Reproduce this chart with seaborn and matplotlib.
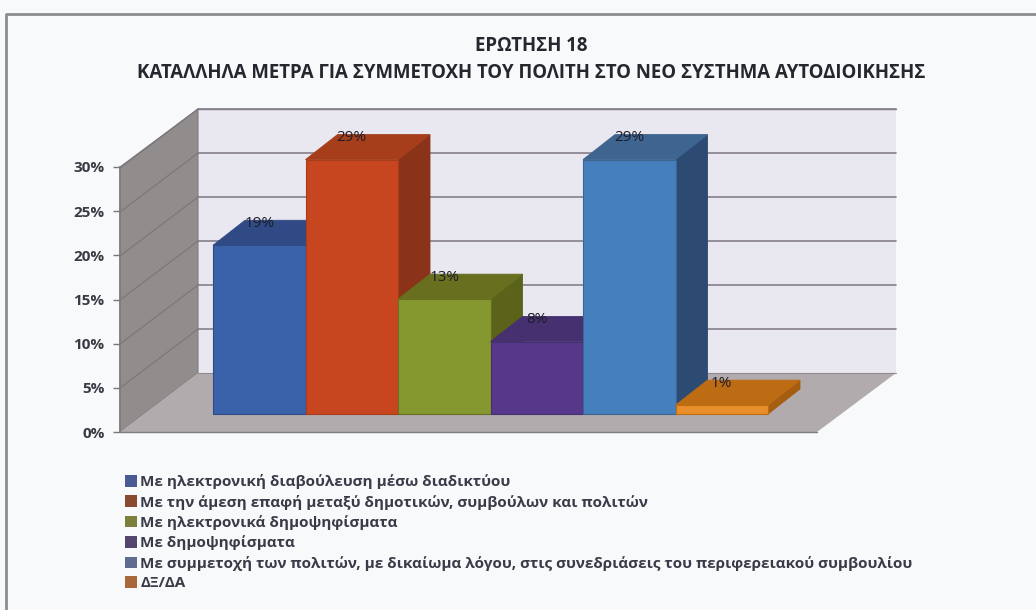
import matplotlib
matplotlib.use("Agg")
import matplotlib.pyplot as plt
import pandas as pd
import seaborn as sns
from matplotlib.patches import Patch, Polygon

categories = [
    "Με ηλεκτρονική διαβούλευση μέσω διαδικτύου",
    "Με την άμεση επαφή μεταξύ δημοτικών, συμβούλων και πολιτών",
    "Με ηλεκτρονικά δημοψηφίσματα",
    "Με δημοψηφίσματα",
    "Με συμμετοχή των πολιτών, με δικαίωμα λόγου, στις συνεδριάσεις του περιφερειακού συμβουλίου",
    "ΔΞ/ΔΑ",
]
values = [19.1, 28.8, 13, 8.2, 28.8, 1]
value_labels = ["19%", "29%", "13%", "8%", "29%", "1%"]
y_ticks = [0, 5, 10, 15, 20, 25, 30]
title_1 = "ΕΡΩΤΗΣΗ 18"
title_2 = "ΚΑΤΑΛΛΗΛΑ ΜΕΤΡΑ ΓΙΑ ΣΥΜΜΕΤΟΧΗ ΤΟΥ ΠΟΛΙΤΗ ΣΤΟ ΝΕΟ ΣΥΣΤΗΜΑ ΑΥΤΟΔΙΟΙΚΗΣΗΣ"

front_colors = ["#3a62ab", "#c8461f", "#84982f", "#56378a", "#467fbd", "#e88e2b"]
top_colors = ["#2f4a85", "#a63e1c", "#68701f", "#46306f", "#3e6490", "#bd6c14"]
side_colors = ["#28407a", "#8a3318", "#5a6319", "#3c2a62", "#2c4a72", "#a55d10"]
legend_colors = ["#4a5a94", "#8a4a30", "#7d7f3c", "#54456f", "#5f6c8f", "#a8683a"]

W, H = 1036, 610
sns.set_theme(style="white")
plt.rcParams["font.family"] = ["Open Sans", "DejaVu Sans"]

fig = plt.figure(figsize=(W / 100, H / 100), dpi=100, facecolor="#f7f9fa")


def box(left, top, right, bottom):
    return [left / W, 1 - bottom / H, (right - left) / W, (bottom - top) / H]


# walls and floor, in picture pixels
bg = fig.add_axes([0, 0, 1, 1])
bg.set_xlim(0, W)
bg.set_ylim(H, 0)
bg.axis("off")
bg.plot([W, 6, 6], [14, 14, H], color="#8d8d8d", lw=2)
bg.add_patch(Polygon([(198, 109), (896, 109), (896, 373), (198, 373)], fc="#e9e7f0", ec="none"))
bg.plot([198, 896], [109, 109], color="#857f8a", lw=1)
bg.add_patch(Polygon([(120, 167), (198, 109), (198, 373), (120, 432)], fc="#918d8d", ec="#7f7b80", lw=0.8))
bg.add_patch(Polygon([(120, 432), (198, 373), (896, 373), (817, 432)], fc="#b1abad", ec="none"))
bg.plot([120, 817], [432, 432], color="#7f7b80", lw=1)
bg.plot([198, 896], [373, 373], color="#8f8a90", lw=0.8)
for t in y_ticks[1:]:
    gy = 373 - t * 8.8
    bg.plot([198, 896], [gy, gy], color="#857f8a", lw=1.2)
    bg.plot([120, 198], [gy + 59, gy], color="#7b777b", lw=0.9)

# value axis on the front edge of the left wall
tick_ax = fig.add_axes(box(120, 167, 122, 432), facecolor="none")
tick_ax.set_ylim(0, 30)
tick_ax.set_xticks([])
tick_ax.set_yticks(y_ticks)
tick_ax.set_yticklabels([f"{t}%" for t in y_ticks], fontweight="bold", fontsize=11, color="#3a3a44")
tick_ax.tick_params(axis="y", left=True, length=5, width=1, color="#777", pad=6)
sns.despine(ax=tick_ax, right=True, top=True, bottom=True)
tick_ax.spines["left"].set_color("#7f7b80")

# bars
ax = fig.add_axes(box(213, 149, 768, 414), facecolor="none")
df = pd.DataFrame({"category": categories, "value": values})
sns.barplot(data=df, x="category", y="value", hue="category", palette=front_colors,
            width=1, saturation=1, legend=False, ax=ax)
ax.set_xlim(-0.5, 5.5)
ax.set_ylim(0, 30)
ax.axis("off")

depth_x = 32 / 92.5
depth_y = 25 / 8.83
bars = sorted([p for p in ax.patches if p.get_height() > 0], key=lambda p: p.get_x())
for i, bar in enumerate(bars):
    x0 = bar.get_x()
    x1 = x0 + bar.get_width()
    h = bar.get_height()
    z = 3 + i * 3
    ax.add_patch(Polygon([(x1, 0), (x1 + depth_x, depth_y), (x1 + depth_x, h + depth_y), (x1, h)],
                         fc=side_colors[i], ec=side_colors[i], lw=0.6, zorder=z, clip_on=False))
    ax.add_patch(Polygon([(x0, h), (x0 + depth_x, h + depth_y), (x1 + depth_x, h + depth_y), (x1, h)],
                         fc=top_colors[i], ec=top_colors[i], lw=0.6, zorder=z + 1, clip_on=False))
    bar.set_zorder(z + 2)
    bar.set_edgecolor(top_colors[i])
    bar.set_linewidth(0.8)
    bar.set_clip_on(False)
    ax.text(x0 + 0.5, h + 2.5, value_labels[i], ha="center", va="center", fontsize=11,
            color="#1c1c28", zorder=40, clip_on=False)

fig.text(531 / W, 1 - 46 / H, title_1, ha="center", va="center", fontsize=13.4, fontweight="bold", color="#26262e")
fig.text(531 / W, 1 - 73 / H, title_2, ha="center", va="center", fontsize=13.4, fontweight="bold", color="#26262e")

handles = [Patch(facecolor=c, edgecolor="none") for c in legend_colors]
fig.legend(handles, categories, loc="upper left", bbox_to_anchor=(125 / W, 1 - 474 / H),
           bbox_transform=fig.transFigure, frameon=False,
           prop={"size": 11, "weight": "bold"}, labelcolor="#3a3a48", labelspacing=0.36,
           handlelength=0.8, handleheight=0.8, handletextpad=0.2, borderpad=0, borderaxespad=0)

fig.savefig("out.png", dpi=100, facecolor=fig.get_facecolor())
